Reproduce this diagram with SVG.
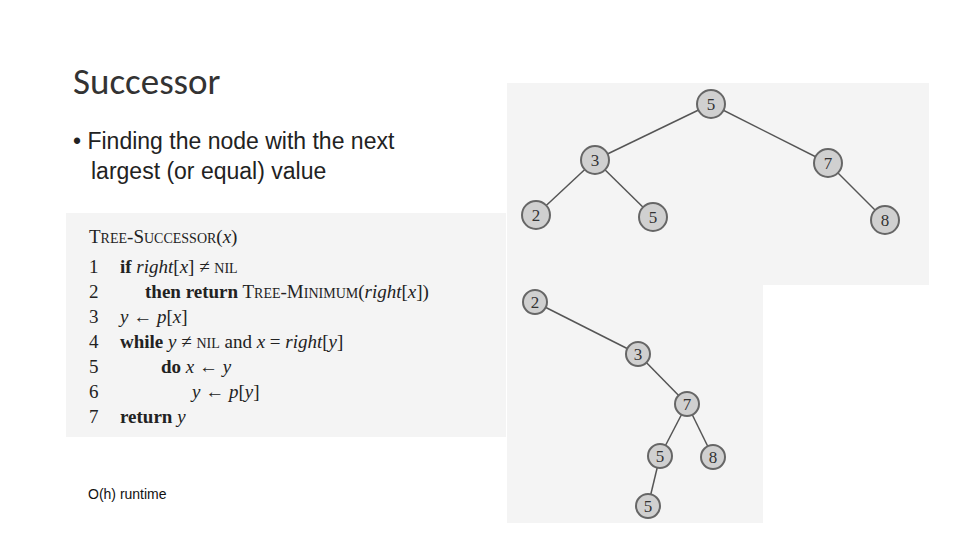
<svg xmlns="http://www.w3.org/2000/svg" width="960" height="540" viewBox="0 0 960 540">
<style>
.s{font-family:"Liberation Serif",serif;font-size:19px;fill:#222}
.b{font-weight:bold}
.i{font-style:italic}
.sc{font-size:14px}
.n circle{fill:#d0d0d0;stroke:#666;stroke-width:2}
.n text{font-family:"Liberation Serif",serif;font-size:17px;fill:#333;text-anchor:middle}
#edges line{stroke:#555;stroke-width:1.5}
</style>
<rect width="960" height="540" fill="#fff"/>
<text x="73" y="94" font-family="Calibri,'Liberation Sans',sans-serif" font-size="37" fill="#333">Successor</text>
<text x="73" y="149" font-family="'Liberation Sans',sans-serif" font-size="23" fill="#222">• Finding the node with the next</text>
<text x="91" y="179" font-family="'Liberation Sans',sans-serif" font-size="23" fill="#222">largest (or equal) value</text>
<rect x="66" y="213" width="440" height="224" fill="#f4f4f4"/>
<g class="s">
<text x="89" y="243">T<tspan class="sc">REE</tspan>-S<tspan class="sc">UCCESSOR</tspan>(<tspan class="i">x</tspan>)</text>
<text x="89" y="273">1</text><text x="120" y="273"><tspan class="b">if</tspan> <tspan class="i">right</tspan>[<tspan class="i">x</tspan>] ≠ <tspan class="sc">NIL</tspan></text>
<text x="89" y="298">2</text><text x="145" y="298"><tspan class="b">then return</tspan> T<tspan class="sc">REE</tspan>-M<tspan class="sc">INIMUM</tspan>(<tspan class="i">right</tspan>[<tspan class="i">x</tspan>])</text>
<text x="89" y="323">3</text><text x="120" y="323"><tspan class="i">y</tspan> ← <tspan class="i">p</tspan>[<tspan class="i">x</tspan>]</text>
<text x="89" y="348">4</text><text x="120" y="348"><tspan class="b">while</tspan> <tspan class="i">y</tspan> ≠ <tspan class="sc">NIL</tspan> and <tspan class="i">x</tspan> = <tspan class="i">right</tspan>[<tspan class="i">y</tspan>]</text>
<text x="89" y="373">5</text><text x="161" y="373"><tspan class="b">do</tspan> <tspan class="i">x</tspan> ← <tspan class="i">y</tspan></text>
<text x="89" y="398">6</text><text x="192" y="398"><tspan class="i">y</tspan> ← <tspan class="i">p</tspan>[<tspan class="i">y</tspan>]</text>
<text x="89" y="423">7</text><text x="120" y="423"><tspan class="b">return</tspan> <tspan class="i">y</tspan></text>
</g>
<text x="88" y="499" font-family="'Liberation Sans',sans-serif" font-size="14" fill="#111">O(h) runtime</text>
<path d="M507 83H929V285H763V523H507Z" fill="#f4f4f4"/>
<g id="edges">
<line x1="711" y1="104" x2="595" y2="160"/><line x1="711" y1="104" x2="828" y2="163"/>
<line x1="595" y1="160" x2="536" y2="215"/><line x1="595" y1="160" x2="653" y2="217"/>
<line x1="828" y1="163" x2="885" y2="220"/>
<line x1="535" y1="302" x2="638" y2="354"/><line x1="638" y1="354" x2="687" y2="404"/>
<line x1="687" y1="404" x2="660" y2="456"/><line x1="687" y1="404" x2="713" y2="457"/>
<line x1="660" y1="456" x2="648" y2="506"/>
</g>
<g id="t1n5" class="n"><circle cx="711" cy="104" r="14"/><text x="711" y="110">5</text></g>
<g id="t1n3" class="n"><circle cx="595" cy="160" r="14"/><text x="595" y="166">3</text></g>
<g id="t1n7" class="n"><circle cx="828" cy="163" r="14"/><text x="828" y="169">7</text></g>
<g id="t1n2" class="n"><circle cx="536" cy="215" r="14"/><text x="536" y="221">2</text></g>
<g id="t1n5b" class="n"><circle cx="653" cy="217" r="14"/><text x="653" y="223">5</text></g>
<g id="t1n8" class="n"><circle cx="885" cy="220" r="14"/><text x="885" y="226">8</text></g>
<g id="t2n2" class="n"><circle cx="535" cy="302" r="12"/><text x="535" y="308">2</text></g>
<g id="t2n3" class="n"><circle cx="638" cy="354" r="12"/><text x="638" y="360">3</text></g>
<g id="t2n7" class="n"><circle cx="687" cy="404" r="12"/><text x="687" y="410">7</text></g>
<g id="t2n5" class="n"><circle cx="660" cy="456" r="12"/><text x="660" y="462">5</text></g>
<g id="t2n8" class="n"><circle cx="713" cy="457" r="12"/><text x="713" y="463">8</text></g>
<g id="t2n5b" class="n"><circle cx="648" cy="506" r="12"/><text x="648" y="512">5</text></g>
</svg>
